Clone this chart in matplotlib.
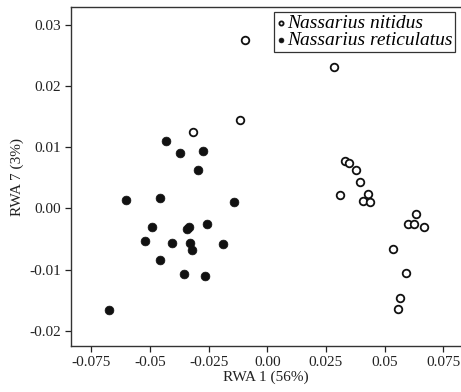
import matplotlib
matplotlib.use("Agg")
import matplotlib.pyplot as plt

# RWA scores
nitidus_x = [-0.0316, -0.0094, -0.0116, 0.0284, 0.0331, 0.0348, 0.0377, 0.0396, 0.0310, 0.0429,
             0.0408, 0.0436, 0.0635, 0.0599, 0.0625, 0.0666, 0.0534, 0.0591, 0.0566, 0.0558]
nitidus_y = [0.0125, 0.0275, 0.0145, 0.0232, 0.0078, 0.0075, 0.0063, 0.0044, 0.0022, 0.0023,
             0.0012, 0.0010, -0.0009, -0.0025, -0.0025, -0.0030, -0.0067, -0.0105, -0.0146, -0.0164]

reticulatus_x = [-0.0431, -0.0373, -0.0274, -0.0295, -0.0602, -0.0455, -0.0142, -0.0491, -0.0341, -0.0332,
                 -0.0258, -0.0520, -0.0406, -0.0329, -0.0321, -0.0190, -0.0457, -0.0355, -0.0265, -0.0674]
reticulatus_y = [0.0110, 0.0091, 0.0094, 0.0063, 0.0014, 0.0017, 0.0011, -0.0031, -0.0034, -0.0031,
                 -0.0025, -0.0053, -0.0057, -0.0057, -0.0068, -0.0059, -0.0085, -0.0107, -0.0110, -0.0167]

xticks = [-0.075, -0.05, -0.025, 0.0, 0.025, 0.05, 0.075]
xtick_labels = ["-0.075", "-0.05", "-0.025", "0.00", "0.025", "0.05", "0.075"]
yticks = [0.03, 0.02, 0.01, 0.0, -0.01, -0.02]
ytick_labels = ["0.03", "0.02", "0.01", "0.00", "-0.01", "-0.02"]

plt.rcParams["font.family"] = ["Liberation Serif", "DejaVu Serif"]

fig = plt.figure(figsize=(4.61, 3.92), dpi=100)
ax = fig.add_axes([0.154, 0.117, 0.846, 0.865])

ax.scatter(nitidus_x, nitidus_y, s=30, facecolors="white", edgecolors="#111111",
           linewidths=1.3, label="Nassarius nitidus", zorder=3)
ax.scatter(reticulatus_x, reticulatus_y, s=40, facecolors="#111111", edgecolors="#111111",
           linewidths=0.5, label="Nassarius reticulatus", zorder=3)

ax.set_xlim(-0.0836, 0.0825)
ax.set_ylim(-0.02254, 0.03295)
ax.set_xticks(xticks)
ax.set_xticklabels(xtick_labels)
ax.set_yticks(yticks)
ax.set_yticklabels(ytick_labels)
ax.tick_params(direction="out", length=4, width=0.9, labelsize=11, colors="#222222", pad=3)

for side in ["left", "bottom", "top"]:
    ax.spines[side].set_color("#333333")
    ax.spines[side].set_linewidth(1.0)
ax.spines["right"].set_visible(False)

ax.set_xlabel("RWA 1 (56%)", fontsize=11, labelpad=1, color="#222222")
ax.set_ylabel("RWA 7 (3%)", fontsize=11, labelpad=4, color="#222222")

leg = ax.legend(loc="upper right", bbox_to_anchor=(0.985, 0.986), fancybox=False,
                framealpha=1, edgecolor="#333333", markerscale=0.55, handlelength=0.4,
                handletextpad=0.15, borderpad=0.12, labelspacing=0.0, borderaxespad=0,
                prop={"style": "italic", "size": 14})
leg.get_frame().set_linewidth(0.9)

fig.savefig("out.png", dpi=100)
